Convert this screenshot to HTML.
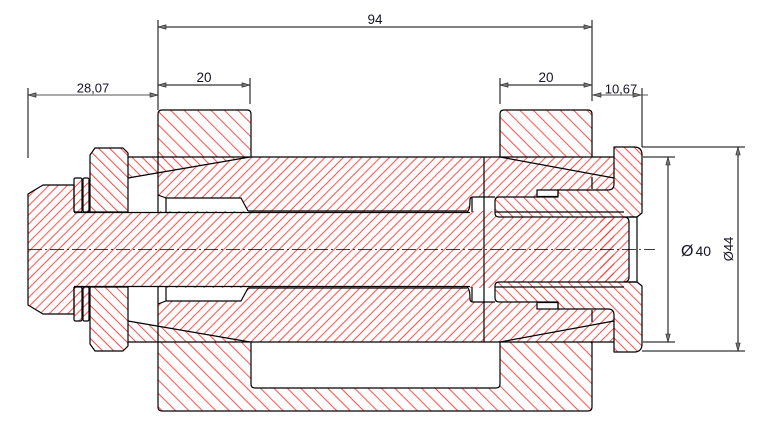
<!DOCTYPE html>
<html><head><meta charset="utf-8">
<style>
html,body{margin:0;padding:0;background:#fff;}
svg{display:block;}
text{font-family:"Liberation Sans",Arial,sans-serif;fill:#141428;}
</style></head><body>
<svg width="766" height="443" viewBox="0 0 766 443" xmlns="http://www.w3.org/2000/svg">
<defs>
<pattern id="pA" patternUnits="userSpaceOnUse" width="6.5" height="6.5" patternTransform="rotate(45)"><line x1="3.2" y1="-1" x2="3.2" y2="7.5" stroke="#ff2a2a" stroke-width="0.85"/></pattern>
<pattern id="pB" patternUnits="userSpaceOnUse" width="9.5" height="9.5" patternTransform="rotate(-45)"><line x1="4.7" y1="-1" x2="4.7" y2="10.5" stroke="#ff2a2a" stroke-width="0.85"/></pattern>
<pattern id="pC" patternUnits="userSpaceOnUse" width="7.1" height="7.1" patternTransform="rotate(-45)"><line x1="3.5" y1="-1" x2="3.5" y2="8.1" stroke="#ff2a2a" stroke-width="0.85"/></pattern>
<pattern id="pN" patternUnits="userSpaceOnUse" width="7.8" height="7.8" patternTransform="rotate(-45)"><line x1="3.9" y1="-1" x2="3.9" y2="8.8" stroke="#ff2a2a" stroke-width="0.85"/></pattern>
</defs>

<!-- bearing blocks / frame -->
<path d="M158,157 V114 Q158,110 162,110 H247 Q251,110 251,114 V157 Z" fill="url(#pB)"/>
<path d="M500,157 V114 Q500,110 504,110 H588 Q592,110 592,114 V157 Z" fill="url(#pB)"/>
<path d="M158,342 H251 V384 Q251,388 255,388 H496 Q500,388 500,384 V342 H592 V407 Q592,411 588,411 H162 Q158,411 158,407 Z" fill="url(#pB)"/>

<!-- left wedges -->
<path d="M128,157 H250 L128,178 Z" fill="url(#pC)"/>
<path d="M128,342 H250 L128,321 Z" fill="url(#pC)"/>

<!-- nut -->
<path d="M90,155 L95,148 H123 L128,153 V212 H90 Z" fill="url(#pN)"/>
<path d="M90,344 L95,351 H123 L128,346 V287 H90 Z" fill="url(#pN)"/>

<!-- shaft / sleeves -->
<path d="M28,194 L43,185 H74 V212 H160 V287 H74 V314 H43 L28,305 Z" fill="url(#pA)"/>
<path d="M158,173 L250,157 H614 V342 H250 L158,326 Z" fill="url(#pA)"/>
<path d="M600,217 H624 Q629,217 629,222 V277 Q629,282 624,282 H600 Z" fill="url(#pA)"/>
<rect x="74" y="178" width="15" height="34" fill="url(#pA)"/>
<rect x="74" y="287" width="15" height="34" fill="url(#pA)"/>

<!-- white gaps -->
<path d="M158,195 L166,198 H241 L248,211 H158 Z" fill="#fff"/>
<path d="M158,304 L166,301 H241 L248,288 H158 Z" fill="#fff"/>
<path d="M467,211 Q470,209 470,200 Q470,197 473,197 H495 V211 Z" fill="#fff"/>
<path d="M467,288 Q470,290 470,299 Q470,302 473,302 H495 V288 Z" fill="#fff"/>

<!-- collet + flange -->
<path d="M495,201 Q495,197 499,197 H558 V190 H608 Q614,190 614,184 V147 H634 Q642,147 642,155 V213 L637,217 H499 Q495,217 495,213 Z" fill="#fff"/>
<path d="M495,298 Q495,302 499,302 H558 V309 H608 Q614,309 614,315 V352 H634 Q642,352 642,344 V286 L637,282 H499 Q495,282 495,286 Z" fill="#fff"/>
<path d="M495,201 Q495,197 499,197 H558 V190 H608 Q614,190 614,184 V147 H634 Q642,147 642,155 V213 L637,217 H499 Q495,217 495,213 Z" fill="url(#pC)"/>
<path d="M495,298 Q495,302 499,302 H558 V309 H608 Q614,309 614,315 V352 H634 Q642,352 642,344 V286 L637,282 H499 Q495,282 495,286 Z" fill="url(#pC)"/>
<rect x="537" y="190" width="21" height="6.5" fill="#fff"/>
<rect x="537" y="302.5" width="21" height="6.5" fill="#fff"/>

<!-- outlines -->
<g fill="none" stroke="#000" stroke-width="1.2" stroke-linejoin="round">
<path d="M158,157 V114 Q158,110 162,110 H247 Q251,110 251,114 V157"/>
<path d="M500,157 V114 Q500,110 504,110 H588 Q592,110 592,114 V157"/>
<path d="M158,342 V407 Q158,411 162,411 H588 Q592,411 592,407 V342 M251,342 V384 Q251,388 255,388 H496 Q500,388 500,384 V342"/>
<path d="M128,157 H614 M128,342 H614"/>
<path d="M128,178 L250,157 M128,321 L250,342"/>
<path d="M500,157 L614,178 M500,342 L614,321"/>
<path d="M90,155 L95,148 H123 L128,153 V212 H90 Z"/>
<path d="M90,344 L95,351 H123 L128,346 V287 H90 Z"/>
<rect x="74" y="178" width="8" height="34" rx="1.5"/>
<rect x="83" y="178" width="6" height="34" rx="1.5"/>
<rect x="74" y="287" width="8" height="34" rx="1.5"/>
<rect x="83" y="287" width="6" height="34" rx="1.5"/>
<path d="M74,212 V185 H43 L28,194 V305 L43,314 H74 V287"/>
<path d="M74,212.5 H470 M74,286.5 H470"/>
<path d="M248,211 H467 M248,288 H467"/>
<path d="M158,157 V212 M158,287 V342"/>
<path d="M158,195 L166,198 H241 L248,211 M166,198 V212"/>
<path d="M158,304 L166,301 H241 L248,288 M166,301 V287"/>
<path d="M467,212 Q470,210 470,200 Q470,197 473,197 H495 M472,197 V212"/>
<path d="M467,287 Q470,289 470,299 Q470,302 473,302 H495 M472,302 V287"/>
<path d="M484,157 V342"/>
<path d="M495,201 Q495,197 499,197 H558 V190 H608 Q614,190 614,184 V147 H634 Q642,147 642,155 V213 L637,217 H499 Q495,217 495,213 Z"/>
<path d="M495,298 Q495,302 499,302 H558 V309 H608 Q614,309 614,315 V352 H634 Q642,352 642,344 V286 L637,282 H499 Q495,282 495,286 Z"/>
<rect x="537" y="190" width="21" height="6.5"/>
<rect x="537" y="302.5" width="21" height="6.5"/>
<path d="M495,212 H624 M495,287 H624"/>
<path d="M624,217 Q629,217 629,222 V277 Q629,282 624,282"/>
<path d="M629,217 H637 V282 H629"/>
<path d="M592,177 V189 M592,322 V310"/>
</g>

<!-- centerline -->
<path d="M28,249.5 H655" stroke="#000" stroke-width="0.8" stroke-dasharray="14 3 2 3" fill="none"/>

<!-- dimension lines -->
<g fill="none" stroke="#000" stroke-width="1">
<path d="M158,20 V110 M592,20 V101"/>
<path d="M158,27 H592"/>
<path d="M250,78 V104 M500,78 V104"/>
<path d="M158,85 H250 M500,85 H592"/>
<path d="M28,88 V158"/>
<path d="M28,95 H158" stroke="#555"/>
<path d="M642,88 V147"/>
<path d="M593,95 H648" stroke="#555"/>
<path d="M643,157 H675 M643,342 H675"/>
<path d="M642,147 H745 M642,351 H745"/>
<path d="M668,157 V342"/>
<path d="M738,147 V351"/>
</g>
<g fill="#777" stroke="#222" stroke-width="0.6">
<polygon points="158,27 166,24.8 166,29.2"/>
<polygon points="592,27 584,24.8 584,29.2"/>
<polygon points="158,85 166,82.8 166,87.2"/>
<polygon points="250,85 242,82.8 242,87.2"/>
<polygon points="500,85 508,82.8 508,87.2"/>
<polygon points="592,85 584,82.8 584,87.2"/>
<polygon points="28,95 36,92.8 36,97.2"/>
<polygon points="158,95 150,92.8 150,97.2"/>
<polygon points="593,95 601,92.8 601,97.2"/>
<polygon points="641,95 633,92.8 633,97.2"/>
<polygon points="668,157 665.8,165 670.2,165"/>
<polygon points="668,342 665.8,334 670.2,334"/>
<polygon points="738,147 735.8,155 740.2,155"/>
<polygon points="738,351 735.8,343 740.2,343"/>
</g>

<!-- texts -->
<text x="375" y="24" font-size="13.5" text-anchor="middle">94</text>
<text x="204" y="82" font-size="13.5" text-anchor="middle">20</text>
<text x="546" y="82" font-size="13.5" text-anchor="middle">20</text>
<text x="93" y="92.5" font-size="13" text-anchor="middle">28,07</text>
<text x="621" y="93.5" font-size="13" text-anchor="middle">10,67</text>
<text x="681" y="256"><tspan font-size="16">Ø</tspan><tspan font-size="14" dx="2">40</tspan></text>
<text transform="translate(733,249) rotate(-90)" font-size="13" text-anchor="middle">Ø44</text>
</svg>
</body></html>
